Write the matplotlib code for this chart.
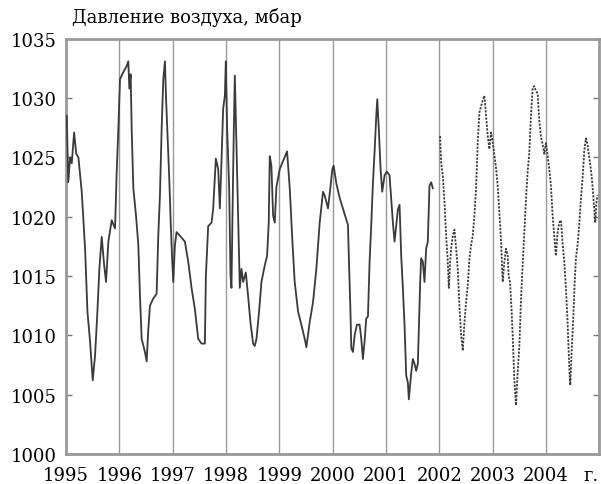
import matplotlib.pyplot as plt

# measured series, 1995 - end of 2001 (solid)
t_meas = [1995.012, 1995.040, 1995.075, 1995.106, 1995.150, 1995.190, 1995.231, 1995.293,
          1995.356, 1995.400, 1995.449, 1995.499, 1995.543, 1995.587, 1995.624, 1995.668,
          1995.712, 1995.749, 1995.793, 1995.855, 1995.918, 1995.949, 1995.980,
          1996.011, 1996.074, 1996.136, 1996.167, 1996.186, 1996.211, 1996.230, 1996.261,
          1996.311, 1996.355, 1996.386, 1996.417, 1996.479, 1996.511, 1996.542, 1996.573,
          1996.635, 1996.698, 1996.729, 1996.760, 1996.792, 1996.823, 1996.854, 1996.873,
          1996.898, 1996.935, 1996.966, 1996.991,
          1997.010, 1997.041, 1997.072, 1997.135, 1997.228, 1997.291, 1997.353, 1997.416,
          1997.478, 1997.541, 1997.603, 1997.622, 1997.665, 1997.728, 1997.759, 1997.809,
          1997.853, 1997.884, 1997.915, 1997.946, 1997.978, 1997.996,
          1998.021, 1998.059, 1998.084, 1998.102, 1998.121, 1998.146, 1998.165, 1998.196,
          1998.227, 1998.258, 1998.290, 1998.321, 1998.371, 1998.414, 1998.458, 1998.508,
          1998.539, 1998.571, 1998.620, 1998.664, 1998.727, 1998.770, 1998.801, 1998.820,
          1998.851, 1998.883, 1998.914, 1998.945,
          1999.007, 1999.070, 1999.145, 1999.195, 1999.245, 1999.288, 1999.351, 1999.413,
          1999.476, 1999.507, 1999.569, 1999.632, 1999.694, 1999.757, 1999.819, 1999.850,
          1999.913, 1999.956, 1999.994,
          2000.019, 2000.069, 2000.131, 2000.225, 2000.287, 2000.306, 2000.331, 2000.350,
          2000.381, 2000.412, 2000.456, 2000.506, 2000.537, 2000.568, 2000.599, 2000.630,
          2000.662, 2000.693, 2000.724, 2000.755, 2000.787, 2000.818, 2000.837, 2000.868,
          2000.899, 2000.930, 2000.974,
          2001.017, 2001.067, 2001.130, 2001.161, 2001.192, 2001.223, 2001.255, 2001.286,
          2001.317, 2001.348, 2001.380, 2001.411, 2001.429, 2001.473, 2001.504, 2001.536,
          2001.567, 2001.598, 2001.642, 2001.660, 2001.692, 2001.723, 2001.754, 2001.785,
          2001.816, 2001.848, 2001.879]
p_meas = [1028.5, 1022.9, 1025.0, 1024.5, 1027.1, 1025.3, 1025.0, 1022.1,
          1017.3, 1012.0, 1009.5, 1006.2, 1008.3, 1012.0, 1015.6, 1018.3,
          1016.0, 1014.5, 1017.9, 1019.7, 1019.0, 1023.8, 1027.4,
          1031.6, 1032.2, 1032.7, 1033.1, 1030.8, 1032.0, 1027.4, 1022.4,
          1020.1, 1017.6, 1013.3, 1009.7, 1008.6, 1007.8, 1010.5, 1012.5,
          1013.1, 1013.5, 1018.4, 1021.8, 1027.4, 1031.6, 1033.1, 1030.2,
          1027.4, 1023.2, 1019.0, 1016.2,
          1014.5, 1017.6, 1018.7, 1018.4, 1017.9, 1016.2, 1014.0, 1012.2,
          1009.7, 1009.3, 1009.3, 1015.0, 1019.2, 1019.5, 1020.7, 1024.9,
          1024.0, 1020.7, 1024.7, 1029.1, 1030.2, 1033.1,
          1027.4, 1022.4, 1015.0, 1014.0, 1020.1, 1027.4, 1031.9, 1026.0,
          1019.8, 1014.0, 1015.6, 1014.5, 1015.3, 1013.3, 1011.1, 1009.3,
          1009.1, 1009.7, 1012.0, 1014.5, 1015.9, 1016.7, 1019.5, 1025.1,
          1024.3, 1020.1, 1019.5, 1022.5,
          1024.0, 1024.7, 1025.5, 1022.4, 1017.9, 1014.5, 1012.0, 1010.9,
          1009.7, 1009.0, 1011.1, 1012.8, 1015.6, 1019.5, 1022.1, 1021.8,
          1020.7, 1022.4, 1024.0,
          1024.3, 1022.8, 1021.6, 1020.2, 1019.3, 1016.2, 1012.5, 1008.9,
          1008.6, 1010.0, 1010.9, 1010.9, 1009.7, 1008.0, 1009.5, 1011.4,
          1011.6, 1016.2, 1019.3, 1022.8, 1025.5, 1028.5, 1029.9, 1027.2,
          1024.0, 1022.1, 1023.5,
          1023.8, 1023.5, 1019.5, 1017.9, 1019.2, 1020.6, 1021.0, 1016.7,
          1014.0, 1010.9, 1006.6, 1006.0, 1004.6, 1006.8, 1008.0, 1007.6,
          1007.0, 1007.6, 1014.5, 1016.5, 1016.2, 1014.5, 1017.3, 1017.9,
          1022.6, 1022.9, 1022.4]

# 2002 - 2004 (dotted)
t_est = [2002.016, 2002.035, 2002.066, 2002.097, 2002.129, 2002.160, 2002.179, 2002.204,
         2002.222, 2002.254, 2002.285, 2002.316, 2002.347, 2002.378, 2002.410, 2002.441,
         2002.472, 2002.503, 2002.534, 2002.566, 2002.597, 2002.628, 2002.659, 2002.690,
         2002.722, 2002.753, 2002.815, 2002.846, 2002.878, 2002.909, 2002.940, 2002.971,
         2003.002, 2003.034, 2003.065, 2003.096, 2003.127, 2003.159, 2003.190, 2003.221,
         2003.252, 2003.283, 2003.302, 2003.327, 2003.352, 2003.377, 2003.408, 2003.439,
         2003.471, 2003.502, 2003.533, 2003.564, 2003.596, 2003.627, 2003.658, 2003.689,
         2003.720, 2003.752, 2003.783, 2003.814, 2003.845, 2003.876, 2003.908, 2003.939,
         2003.970, 2004.001, 2004.032, 2004.064, 2004.095, 2004.126, 2004.157, 2004.188,
         2004.220, 2004.251, 2004.282, 2004.313, 2004.345, 2004.376, 2004.407, 2004.438,
         2004.457, 2004.488, 2004.513, 2004.538, 2004.563, 2004.594, 2004.625, 2004.657,
         2004.688, 2004.719, 2004.750, 2004.781, 2004.813, 2004.844, 2004.875, 2004.906,
         2004.925, 2004.950, 2004.969]
p_est = [1026.8, 1024.6, 1023.5, 1021.3, 1018.4, 1016.2, 1014.0, 1016.2,
         1017.3, 1018.4, 1018.9, 1017.3, 1015.6, 1012.5, 1010.0, 1008.7,
         1011.1, 1012.8, 1014.2, 1016.5, 1017.6, 1018.4, 1020.1, 1022.4,
         1026.3, 1028.8, 1029.8, 1030.2, 1028.5, 1026.8, 1025.7, 1027.1,
         1026.3, 1025.2, 1024.1, 1022.6, 1020.4, 1017.9, 1014.5, 1016.2,
         1017.3, 1016.7, 1015.0, 1014.5, 1012.5, 1010.0, 1006.3, 1004.1,
         1006.9, 1009.1, 1013.0, 1015.9, 1018.7, 1021.5, 1023.8, 1025.4,
         1028.5, 1030.9, 1031.0, 1030.6, 1030.4, 1028.1, 1026.7, 1026.1,
         1025.3, 1026.2, 1025.2, 1024.0, 1022.6, 1020.1, 1018.4, 1016.7,
         1018.7, 1019.5, 1019.7, 1017.8, 1016.2, 1014.0, 1011.1, 1007.4,
         1005.8, 1009.1, 1011.4, 1014.2, 1016.5, 1017.6, 1019.3, 1021.5,
         1023.2, 1025.5, 1026.6, 1026.1, 1025.0, 1024.0, 1022.6, 1020.7,
         1019.5, 1021.3, 1021.8]

years = list(range(1995, 2005))
year_labels = [str(y) for y in years]
y_ticks = [1000, 1005, 1010, 1015, 1020, 1025, 1030, 1035]

plt.rcParams['font.family'] = 'DejaVu Serif'

fig = plt.figure(figsize=(6.01, 4.85), dpi=100)
ax = fig.add_axes([0.110, 0.062, 0.887, 0.856])

# vertical grid at each year
for y in years[1:]:
    ax.axvline(y, color='#999999', lw=1.0, zorder=1)

ax.plot(t_meas, p_meas, color='#3a3a3a', lw=1.3, zorder=3)
ax.plot(t_est, p_est, color='#3a3a3a', lw=1.3, ls=(0, (1.2, 0.8)), zorder=3)

ax.set_xlim(1995, 2005)
ax.set_ylim(1000, 1035)
ax.set_xticks(years)
ax.set_xticklabels(year_labels)
ax.set_yticks(y_ticks)
ax.tick_params(direction='in', length=4, width=1, color='#777777', labelsize=13,
               right=True, pad=7)
ax.tick_params(axis='x', length=0, pad=9)

# unit label at the end of the time axis
ax.annotate('г.', xy=(2004.85, 0), xycoords=('data', 'axes fraction'),
            xytext=(0, -9), textcoords='offset points',
            ha='center', va='top', fontsize=13)

for s in ax.spines.values():
    s.set_color('#999999')
    s.set_linewidth(2)

fig.text(0.12, 0.945, 'Давление воздуха, мбар', fontsize=13, ha='left', va='bottom')

fig.savefig('out.png', dpi=100)
